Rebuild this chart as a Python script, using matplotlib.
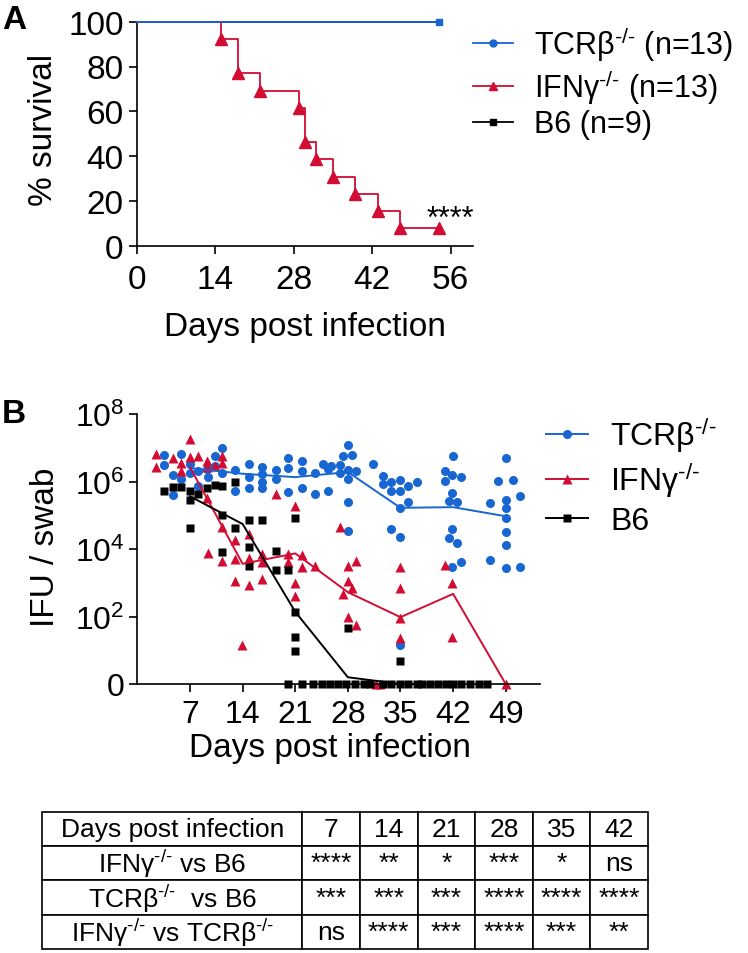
import matplotlib
matplotlib.use('Agg')
import matplotlib.pyplot as plt
from matplotlib.lines import Line2D

plt.rcParams['font.family'] = ['Liberation Sans', 'DejaVu Sans']
plt.rcParams['mathtext.fontset'] = 'custom'
plt.rcParams['mathtext.rm'] = 'Liberation Sans'
plt.rcParams['mathtext.it'] = 'Liberation Sans:italic'
plt.rcParams['mathtext.bf'] = 'Liberation Sans:bold'

BLUE = '#1766d2'
RED = '#d20c32'
BLACK = '#000000'

# ---- panel A: survival ----
surv_tcr_days = [0, 54]
surv_tcr = [100, 100]
surv_b6_days = [0, 54]
surv_b6 = [100, 100]
surv_ifng_days = [0, 15, 18, 22, 29, 30, 32, 35, 39, 43, 47, 54]
surv_ifng = [100, 92.3, 76.9, 69.2, 61.5, 46.2, 38.5, 30.8, 23.1, 15.4, 7.7, 7.7]

# ---- panel B: log10 IFU per swab (0 = none detected) ----
tcr_day = [3.6, 3.6, 4.7, 4.7, 5.8, 5.8, 7.0, 7.0, 8.1, 8.1,
           9.2, 9.4, 10.3, 10.3, 11.3, 11.3, 13.0, 13.0, 14.8, 14.8,
           14.8, 16.6, 16.6, 16.6, 16.6, 18.4, 18.4, 20.1, 20.1, 20.1,
           21.9, 21.9, 21.9, 23.6, 23.6, 24.7, 25.4, 25.7, 25.4, 26.9,
           26.9, 27.4, 28.0, 28.5, 28.0, 28.0, 29.1, 28.0, 28.0, 31.3,
           32.7, 32.7, 33.8, 34.9, 33.8, 34.9, 36.0, 37.2, 34.9, 36.0,
           33.8, 34.9, 34.9, 40.9, 42.0, 41.9, 43.1, 40.9, 41.9, 41.4,
           42.5, 41.9, 41.4, 42.5, 41.9, 43.1, 46.9, 48.0, 49.0, 50.0,
           49.0, 49.0, 49.0, 49.0, 49.0, 46.9, 49.0, 50.9, 50.9]
tcr_log = [6.80, 6.49, 6.18, 5.60, 6.82, 6.08, 6.52, 6.25, 6.32, 5.88,
           6.37, 6.13, 6.77, 6.47, 6.99, 6.25, 6.35, 5.73, 6.52, 6.13,
           5.80, 6.44, 6.23, 5.98, 5.80, 6.35, 6.08, 6.70, 6.41, 5.68,
           6.62, 6.32, 5.81, 6.25, 5.62, 6.52, 6.37, 6.45, 5.73, 6.49,
           6.25, 6.77, 7.09, 6.80, 6.35, 6.08, 6.32, 5.39, 4.53, 6.53,
           6.15, 5.93, 6.00, 6.05, 5.71, 5.73, 5.88, 6.00, 5.21, 5.39,
           4.58, 4.35, 1.16, 6.30, 6.75, 6.18, 6.12, 6.01, 5.66, 5.43,
           5.39, 4.59, 4.32, 4.18, 3.48, 3.61, 5.36, 6.02, 6.71, 6.05,
           5.45, 5.21, 4.92, 4.49, 4.11, 3.68, 3.45, 5.57, 3.48]

ifng_day = [2.5, 2.5, 4.7, 5.8, 5.8, 7.0, 7.0, 8.1, 9.2, 9.2,
            10.3, 11.3, 11.3, 9.2, 11.3, 13.0, 9.4, 11.3, 13.0, 14.8,
            14.8, 14.8, 13.0, 16.6, 16.6, 16.6, 13.9, 18.4, 20.1, 20.1,
            20.9, 20.9, 20.9, 21.9, 21.9, 23.6, 26.9, 28.0, 28.0, 29.1,
            28.5, 27.4, 28.0, 29.1, 34.9, 34.9, 34.9, 34.9, 40.9, 41.9,
            41.9, 31.8, 32.3, 49.0]
ifng_log = [6.82, 6.42, 6.69, 6.54, 6.30, 7.25, 6.72, 6.75, 6.62, 6.42,
            6.45, 6.77, 6.55, 5.51, 4.65, 4.28, 3.88, 3.63, 3.71, 4.43,
            3.74, 2.92, 3.04, 3.85, 3.61, 3.11, 1.16, 5.62, 3.85, 3.61,
            5.27, 2.99, 2.62, 3.81, 3.48, 3.51, 4.64, 3.49, 3.06, 3.64,
            2.84, 2.67, 1.98, 1.76, 3.48, 2.84, 1.96, 1.36, 3.54, 3.00,
            1.38, 0, 0, 0]

b6_day = [3.6, 4.7, 5.8, 7.0, 7.0, 7.0, 8.1, 9.2, 10.3, 11.3,
          11.3, 13.0, 13.0, 11.3, 14.8, 16.6, 14.8, 14.8, 18.4, 18.4,
          20.1, 20.9, 20.9, 20.9, 20.9, 28.0, 34.9,
          20.1, 21.9, 23.4, 24.5, 25.6, 26.7, 27.8, 29.0, 30.1, 31.0,
          32.7, 33.8, 34.9, 36.0, 37.2, 37.8, 38.9, 40.0, 41.1, 42.0,
          43.1, 44.3, 45.4, 46.5]
b6_log = [5.73, 5.85, 5.83, 5.73, 5.44, 4.63, 5.63, 5.80, 5.91, 5.88,
          5.02, 5.98, 4.63, 3.92, 4.86, 4.86, 4.07, 3.51, 3.95, 3.38,
          3.38, 4.92, 2.14, 1.38, 0.99, 1.65, 0.69,
          0, 0, 0, 0, 0, 0, 0, 0, 0, 0,
          0, 0, 0, 0, 0, 0, 0, 0, 0, 0,
          0, 0, 0, 0]

mean_days = [7, 14, 21, 28, 35, 42, 49]
tcr_mean = [6.40, 6.23, 6.13, 6.28, 5.22, 5.24, 4.97]
ifng_mean = [6.42, 3.56, 3.87, 2.72, 1.98, 2.67, 0]
b6_mean_days = [7, 14, 21, 28, 35, 42]
b6_mean = [5.56, 4.74, 2.14, 0.2, 0, 0]

# ---- table ----
KO = '$^{\\text{-/-}}$'
table_header = ['Days post infection', '7', '14', '21', '28', '35', '42']
table_rows = ['IFNγ' + KO + ' vs B6',
              'TCRβ' + KO + '  vs B6',
              'IFNγ' + KO + ' vs TCRβ' + KO]
ifng_vs_b6 = ['****', '**', '*', '***', '*', 'ns']
tcr_vs_b6 = ['***', '***', '***', '****', '****', '****']
ifng_vs_tcr = ['ns', '****', '***', '****', '***', '**']

lab_tcr = 'TCRβ' + KO
lab_ifng = 'IFNγ' + KO

W, H = 748, 954
fig = plt.figure(figsize=(W / 100, H / 100), dpi=100)


def style_axes(ax):
    for s in ['top', 'right']:
        ax.spines[s].set_visible(False)
    for s in ['left', 'bottom']:
        ax.spines[s].set_linewidth(1.2)
    ax.tick_params(direction='out', length=6, width=1.2)


# panel A
axA = fig.add_axes([136.7 / W, 1 - 246.7 / H, 336.3 / W, 224 / H])
axA.step(surv_b6_days, surv_b6, where='post', color=BLACK, lw=1.3, clip_on=False)
axA.step(surv_ifng_days, surv_ifng, where='post', color=RED, lw=1.3, marker='^', ms=8,
         markevery=list(range(1, len(surv_ifng_days))), clip_on=False, zorder=3)
axA.step(surv_tcr_days, surv_tcr, where='post', color=BLUE, lw=1.3, marker='s', ms=4,
         markevery=[len(surv_tcr_days) - 1], clip_on=False, zorder=4)
axA.set_xlim(0, 60)
axA.set_ylim(0, 100)
axA.set_xticks([0, 14, 28, 42, 56])
axA.set_yticks([0, 20, 40, 60, 80, 100])
style_axes(axA)
axA.tick_params(labelsize=24)
axA.tick_params(axis='x', pad=7)
axA.text(56, 8.3, '****', ha='center', va='baseline', fontsize=22)
axA.set_xlabel('Days post infection', fontsize=24)
axA.xaxis.set_label_coords(0.5, -0.29)
axA.set_ylabel('% survival', fontsize=24)
axA.yaxis.set_label_coords(-0.23, 0.52)

handlesA = [Line2D([], [], color=BLUE, lw=1.3, marker='o', ms=5),
            Line2D([], [], color=RED, lw=1.3, marker='^', ms=6),
            Line2D([], [], color=BLACK, lw=1.3, marker='s', ms=5)]
fig.legend(handlesA, [lab_tcr + ' (n=13)', lab_ifng + ' (n=13)', 'B6 (n=9)'],
           loc='upper left', bbox_to_anchor=(473 / W, 1 - 25 / H), frameon=False,
           fontsize=22, handlelength=1.3, handletextpad=0.7, labelspacing=0.12,
           borderpad=0, borderaxespad=0)

# panel B
axB = fig.add_axes([137.4 / W, 1 - 685 / H, 402.6 / W, 270 / H])
axB.plot(tcr_day, tcr_log, 'o', color=BLUE, ms=6.5, mec='none', clip_on=False)
axB.plot(ifng_day, ifng_log, '^', color=RED, ms=6.5, mec='none', clip_on=False)
axB.plot(b6_day, b6_log, 's', color=BLACK, ms=6, mec='none', clip_on=False)
axB.plot(mean_days, tcr_mean, color=BLUE, lw=1.4)
axB.plot(mean_days, ifng_mean, color=RED, lw=1.4, clip_on=False)
axB.plot(b6_mean_days, b6_mean, color=BLACK, lw=1.4, clip_on=False)
axB.set_xlim(0, 53.56)
axB.set_ylim(0, 8)
axB.set_xticks(mean_days)
axB.set_yticks([0, 2, 4, 6, 8])
axB.set_yticklabels(['0', '$\\mathregular{10^{2}}$', '$\\mathregular{10^{4}}$',
                     '$\\mathregular{10^{6}}$', '$\\mathregular{10^{8}}$'])
style_axes(axB)
axB.tick_params(axis='x', labelsize=23, pad=5)
axB.tick_params(axis='y', labelsize=23)
axB.set_xlabel('Days post infection', fontsize=24)
axB.xaxis.set_label_coords(0.478, -0.178)
axB.set_ylabel('IFU / swab', fontsize=24)
axB.yaxis.set_label_coords(-0.19, 0.51)

handlesB = [Line2D([], [], color=BLUE, lw=1.4, marker='o', ms=6.5, mec='none'),
            Line2D([], [], color=RED, lw=1.4, marker='^', ms=6.5, mec='none'),
            Line2D([], [], color=BLACK, lw=1.4, marker='s', ms=6, mec='none')]
fig.legend(handlesB, [lab_tcr, lab_ifng, 'B6'],
           loc='upper left', bbox_to_anchor=(546 / W, 1 - 416 / H), frameon=False,
           fontsize=23, handlelength=1.3, handletextpad=0.7, labelspacing=0.2,
           borderpad=0, borderaxespad=0)

fig.text(2 / W, 1 - 29 / H, 'A', fontsize=24, fontweight='bold', va='baseline')
fig.text(2 / W, 1 - 423 / H, 'B', fontsize=24, fontweight='bold', va='baseline')

# table
axT = fig.add_axes([42.2 / W, 1 - 950 / H, 605.5 / W, 137.3 / H])
axT.axis('off')
cells = [table_header,
         [table_rows[0]] + ifng_vs_b6,
         [table_rows[1]] + tcr_vs_b6,
         [table_rows[2]] + ifng_vs_tcr]
first_w = 260.2 / 605.5
other_w = (1 - first_w) / 6
tbl = axT.table(cellText=cells, cellLoc='center', bbox=[0, 0, 1, 1],
                colWidths=[first_w] + [other_w] * 6)
tbl.auto_set_font_size(False)
tbl.set_fontsize(19)
for cell in tbl.get_celld().values():
    cell.set_linewidth(1.2)

fig.savefig('out.png', dpi=100)
